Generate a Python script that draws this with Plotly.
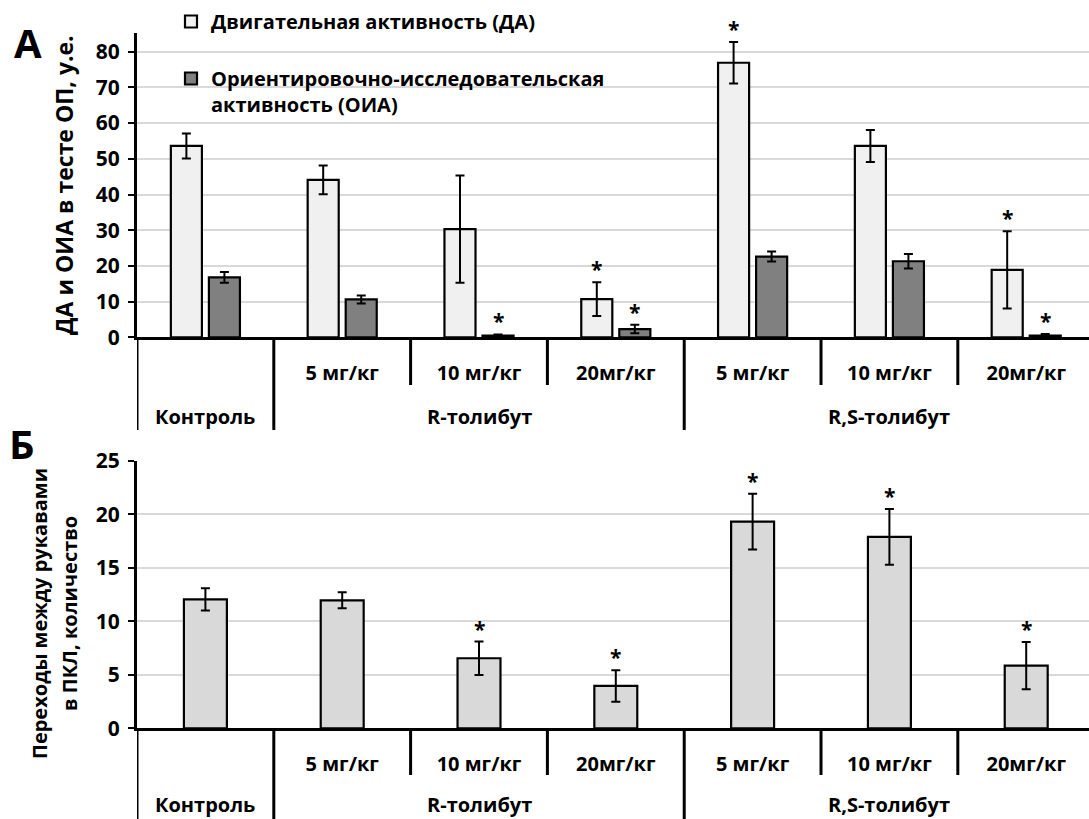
import plotly.graph_objects as go

# ---------------- data ----------------
categories = ["Контроль", "R 5 мг/кг", "R 10 мг/кг", "R 20мг/кг",
              "RS 5 мг/кг", "RS 10 мг/кг", "RS 20мг/кг"]
dose_labels = ["", "5 мг/кг", "10 мг/кг", "20мг/кг", "5 мг/кг", "10 мг/кг", "20мг/кг"]
group_labels = ["Контроль", "R-толибут", "R,S-толибут"]
group_centers = [0, 2, 5]

da_values = [53.6, 44.1, 30.3, 10.7, 76.9, 53.6, 18.9]
da_errors = [3.5, 4.0, 15.0, 4.7, 5.8, 4.5, 10.8]
oia_values = [16.8, 10.6, 0.5, 2.3, 22.6, 21.3, 0.5]
oia_errors = [1.5, 1.1, 0.3, 1.2, 1.4, 2.0, 0.4]
da_star = [False, False, False, True, True, False, True]
oia_star = [False, False, True, True, False, False, True]

transitions = [12.06, 11.97, 6.55, 3.96, 19.33, 17.9, 5.86]
transitions_err = [1.05, 0.75, 1.56, 1.48, 2.6, 2.6, 2.2]
trans_star = [False, False, True, True, True, True, True]

da_name = "Двигательная активность (ДА)"
oia_name = "Ориентировочно-исследовательская<br>активность (ОИА)"
top_ytitle = "ДА и ОИА в тесте ОП, у.е."
bottom_ytitle_lines = ["Переходы между рукавами", "в ПКЛ, количество"]

# ---------------- style ----------------
W, H = 1089, 819
FONT = "Open Sans"
x_left = 137 / W
x_range = [-0.5, 6.459]
top_y0_px, top_y1_px = 337.3, 33
bot_y0_px, bot_y1_px = 728.3, 461
pf = lambda px: 1 - px / H

bw_top = 0.227
gap_top = 0.051
bw_bot = 0.314

fig = go.Figure()

err_style = dict(type="data", color="black", thickness=2, width=4.5)
line_style = dict(color="black", width=2.2)

fig.add_trace(go.Bar(
    x=categories, y=da_values, name=da_name,
    error_y=dict(array=da_errors, **err_style),
    marker=dict(color="#f0f0f0", line=line_style),
    width=bw_top, offset=-(bw_top + gap_top / 2),
    legendgroup="a", xaxis="x", yaxis="y"))
fig.add_trace(go.Bar(
    x=categories, y=oia_values, name=oia_name,
    error_y=dict(array=oia_errors, **err_style),
    marker=dict(color="#808080", line=line_style),
    width=bw_top, offset=gap_top / 2,
    legendgroup="b", xaxis="x", yaxis="y"))
fig.add_trace(go.Bar(
    x=categories, y=transitions, name="Переходы",
    error_y=dict(array=transitions_err, **err_style),
    marker=dict(color="#d9d9d9", line=line_style),
    width=bw_bot, offset=-bw_bot / 2,
    showlegend=False, xaxis="x2", yaxis="y2"))

annotations = []
star_font = dict(family=FONT, size=21, color="black", weight="bold")
da_c = -(bw_top + gap_top) / 2
oia_c = (bw_top + gap_top) / 2
for i in range(len(categories)):
    if da_star[i]:
        annotations.append(dict(x=i + da_c, y=da_values[i] + da_errors[i], xref="x", yref="y",
                                text="*", showarrow=False, yanchor="bottom", yshift=-3, font=star_font))
    if oia_star[i]:
        annotations.append(dict(x=i + oia_c, y=oia_values[i] + oia_errors[i], xref="x", yref="y",
                                text="*", showarrow=False, yanchor="bottom", yshift=-3, font=star_font))
    if trans_star[i]:
        annotations.append(dict(x=i, y=transitions[i] + transitions_err[i], xref="x2", yref="y2",
                                text="*", showarrow=False, yanchor="bottom", yshift=-3, font=star_font))

lab_font = dict(family=FONT, size=20, color="black", weight="bold")
for g, c in zip(group_labels, group_centers):
    annotations.append(dict(x=c, y=pf(416), xref="x", yref="paper", text=g, showarrow=False,
                            yanchor="middle", font=lab_font))
    annotations.append(dict(x=c, y=pf(804), xref="x2", yref="paper", text=g, showarrow=False,
                            yanchor="middle", font=lab_font, borderpad=0))

# bottom y-axis title (two rotated lines, placed like the reference)
ttl_font = dict(family=FONT, size=20, color="black", weight="bold")
for txt, xp in zip(bottom_ytitle_lines, [39, 69]):
    annotations.append(dict(x=xp / W, y=pf(614), xref="paper", yref="paper", text=txt,
                            textangle=-90, showarrow=False, xanchor="center", yanchor="middle",
                            font=ttl_font))

panel_font = dict(family=FONT, size=40, color="black", weight="bold")
annotations.append(dict(x=28 / W, y=pf(42), xref="paper", yref="paper", text="А",
                        showarrow=False, xanchor="center", yanchor="middle", font=panel_font))
annotations.append(dict(x=22 / W, y=pf(443), xref="paper", yref="paper", text="Б",
                        showarrow=False, xanchor="center", yanchor="middle", font=panel_font))

# divider lines of the category axis
shapes = []
long_div = [-0.5, 0.5, 3.5]
short_div = [1.5, 2.5, 4.5, 5.5]
for xr, y0, ys, yl in [("x", top_y0_px, 385, 430), ("x2", bot_y0_px, 775, 819)]:
    for d in long_div:
        shapes.append(dict(type="line", xref=xr, yref="paper", x0=d, x1=d,
                           y0=pf(y0), y1=pf(yl), line=dict(color="black", width=3)))
    for d in short_div:
        shapes.append(dict(type="line", xref=xr, yref="paper", x0=d, x1=d,
                           y0=pf(y0), y1=pf(ys), line=dict(color="black", width=3)))

tick_font = dict(family=FONT, size=21, color="black", weight="bold")
dose_font = dict(family=FONT, size=20, color="black", weight="bold")
xaxis_common = dict(type="category", categoryorder="array", categoryarray=categories,
                    domain=[x_left, 1], range=x_range, tickvals=categories, ticktext=dose_labels,
                    ticks="", showline=True, linecolor="black", linewidth=3, automargin=False,
                    tickfont=dose_font, ticklabelstandoff=16, showgrid=False, zeroline=False)
yaxis_common = dict(showline=True, linecolor="black", linewidth=3, ticks="outside", ticklen=6,
                    tickwidth=2, tickcolor="black", tickfont=tick_font, showgrid=True, automargin=False,
                    gridcolor="#d9d9d9", gridwidth=1.5, zeroline=False, ticklabelstandoff=4)

fig.update_layout(
    width=W, height=H, margin=dict(l=0, r=0, t=0, b=0, autoexpand=False),
    paper_bgcolor="white", plot_bgcolor="white",
    barmode="overlay",
    font=dict(family=FONT, color="black"),
    xaxis=dict(anchor="y", **xaxis_common),
    xaxis2=dict(anchor="y2", **xaxis_common),
    yaxis=dict(anchor="x", domain=[pf(top_y0_px), pf(top_y1_px)],
               range=[0, (top_y0_px - top_y1_px) / ((top_y0_px - 51.7) / 80)],
               tickvals=[0, 10, 20, 30, 40, 50, 60, 70, 80],
               title=dict(text=top_ytitle, font=dict(family=FONT, size=23, weight="bold"), standoff=16),
               **yaxis_common),
    yaxis2=dict(anchor="x2", domain=[pf(bot_y0_px), pf(bot_y1_px)], range=[0, 25],
                tickvals=[0, 5, 10, 15, 20, 25],
                **yaxis_common),
    legend=dict(x=171 / W, y=1.0 - 2 / H, xanchor="left", yanchor="top", bgcolor="rgba(0,0,0,0)",
                traceorder="grouped", tracegroupgap=28, valign="top",
                font=dict(family=FONT, size=20, color="black", weight="bold")),
    annotations=annotations, shapes=shapes,
)

fig.write_html("out.html", config={"displayModeBar": False},
               post_script="document.body.style.margin='0px';document.body.style.overflow='hidden';")
